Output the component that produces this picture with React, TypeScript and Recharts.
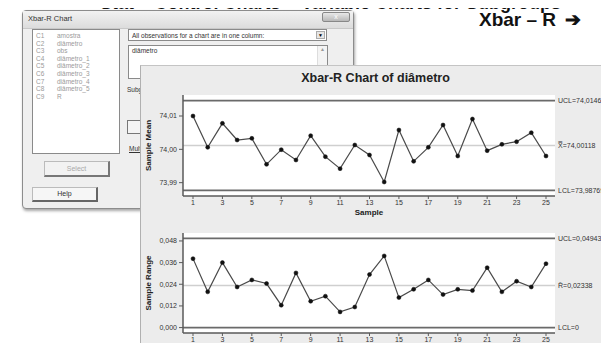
import {
  LineChart,
  Line,
  XAxis,
  YAxis,
  CartesianGrid,
  ReferenceLine,
} from 'recharts';

// subgroup numbers and the two statistics plotted per subgroup
const samples = [1, 2, 3, 4, 5, 6, 7, 8, 9, 10, 11, 12, 13, 14, 15, 16, 17, 18, 19, 20, 21, 22, 23, 24, 25];
const sampleMeans = [
  74.01, 74.0006, 74.0078, 74.0028, 74.0033, 73.9955, 73.9999, 73.9968, 74.0041, 73.9978,
  73.9942, 74.0013, 73.9983, 73.9902, 74.0058, 73.9964, 74.0006, 74.0073, 73.998, 74.0091,
  73.9996, 74.0015, 74.0023, 74.005, 73.998,
];
const sampleRanges = [
  0.0382, 0.0198, 0.036, 0.0225, 0.0264, 0.0244, 0.0124, 0.0303, 0.0146, 0.0174,
  0.0087, 0.0114, 0.0294, 0.0397, 0.0166, 0.0212, 0.0264, 0.0183, 0.0212, 0.0205,
  0.0332, 0.0198, 0.0257, 0.0225, 0.0354,
];

const meanLimits = { ucl: 74.0146, center: 74.00118, lcl: 73.98769 };
const rangeLimits = { ucl: 0.04943, center: 0.02338, lcl: 0 };

const xTicks = [1, 3, 5, 7, 9, 11, 13, 15, 17, 19, 21, 23, 25];
const meanTicks = [73.99, 74.0, 74.01];
const rangeTicks = [0, 0.012, 0.024, 0.036, 0.048];

const listColumns = [
  ['C1', 'amostra'],
  ['C2', 'diâmetro'],
  ['C3', 'obs'],
  ['C4', 'diâmetro_1'],
  ['C5', 'diâmetro_2'],
  ['C6', 'diâmetro_3'],
  ['C7', 'diâmetro_4'],
  ['C8', 'diâmetro_5'],
  ['C9', 'R'],
];

const meanData = samples.map((s, i) => ({ sample: s, value: sampleMeans[i] }));
const rangeData = samples.map((s, i) => ({ sample: s, value: sampleRanges[i] }));

const FONT = '"Liberation Sans", Arial, sans-serif';
const FRAME = '#5a5a5a';
const comma = (digits: number) => (v: number) => v.toFixed(digits).replace('.', ',');

function yTitle(text: string) {
  return (props: any) => {
    const vb = props.viewBox || { x: 0, y: 0, height: 0 };
    const cx = vb.x + 8;
    const cy = vb.y + vb.height / 2;
    return (
      <text
        x={cx}
        y={cy}
        transform={`rotate(-90 ${cx} ${cy})`}
        textAnchor="middle"
        dominantBaseline="central"
        fontFamily={FONT}
        fontWeight="bold"
        fontSize={8}
        fill="#222"
      >
        {text}
      </text>
    );
  };
}

function xTitle(props: any) {
  const vb = props.viewBox || { x: 0, y: 0, width: 0 };
  return (
    <text
      x={vb.x + vb.width / 2}
      y={vb.y + 16}
      textAnchor="middle"
      dominantBaseline="central"
      fontFamily={FONT}
      fontWeight="bold"
      fontSize={8}
      fill="#222"
    >
      Sample
    </text>
  );
}

const limitLabel = (value: string) => ({
  value,
  position: 'right' as const,
  offset: 3,
  fill: '#333',
  fontSize: 7,
  fontFamily: FONT,
});

interface ControlChartProps {
  data: { sample: number; value: number }[];
  height: number;
  marginTop: number;
  xAxisHeight: number;
  domain: [number, number];
  ticks: number[];
  digits: number;
  title: string;
  limits: { ucl: number; center: number; lcl: number };
  labels: [string, string, string];
}

function ControlChart(p: ControlChartProps) {
  const tickStyle = { fontSize: 7, fill: '#333', fontFamily: FONT };
  return (
    <LineChart
      width={469}
      height={p.height}
      data={p.data}
      margin={{ top: p.marginTop, right: 54, bottom: 0, left: 0 }}
    >
      <CartesianGrid horizontal={false} vertical={false} fill="#ffffff" />
      <XAxis
        dataKey="sample"
        type="number"
        domain={[1, 25]}
        ticks={xTicks}
        padding={{ left: 10, right: 9 }}
        height={p.xAxisHeight}
        tick={tickStyle}
        tickSize={3}
        tickMargin={1}
        interval={0}
        axisLine={{ stroke: FRAME, strokeWidth: 1.5 }}
        tickLine={{ stroke: FRAME }}
        label={{ content: xTitle }}
      />
      <XAxis xAxisId="top" orientation="top" height={0} tick={false} tickLine={false} axisLine={{ stroke: FRAME, strokeWidth: 1.5 }} />
      <YAxis
        type="number"
        domain={p.domain}
        ticks={p.ticks}
        width={43}
        allowDataOverflow
        tick={tickStyle}
        tickSize={4}
        tickMargin={2}
        tickFormatter={comma(p.digits)}
        axisLine={{ stroke: FRAME, strokeWidth: 1.5 }}
        tickLine={{ stroke: FRAME }}
        label={{ content: yTitle(p.title) }}
      />
      <YAxis yAxisId="right" orientation="right" width={0} tick={false} tickLine={false} axisLine={{ stroke: FRAME, strokeWidth: 1.5 }} />
      <ReferenceLine y={p.limits.ucl} stroke="#6a6a6a" strokeWidth={1.6} label={limitLabel(p.labels[0])} />
      <ReferenceLine y={p.limits.center} stroke="#cfcfcf" strokeWidth={1.5} label={limitLabel(p.labels[1])} />
      <ReferenceLine y={p.limits.lcl} stroke="#6a6a6a" strokeWidth={1.6} label={limitLabel(p.labels[2])} />
      <Line
        dataKey="value"
        stroke="#4a4a4a"
        strokeWidth={1.2}
        dot={{ r: 2, fill: '#111', stroke: '#111', strokeWidth: 0.5 }}
        isAnimationActive={false}
      />
    </LineChart>
  );
}

const box = (s: React.CSSProperties): React.CSSProperties => ({ position: 'absolute', boxSizing: 'border-box', ...s });

function Dialog() {
  const small = { fontFamily: FONT, fontSize: 7, color: '#333' };
  return (
    <div style={box({ left: 22, top: 10, width: 332, height: 199, background: '#efefef', border: '1px solid #8c8c8c', borderRadius: 4, boxShadow: '1px 2px 3px rgba(0,0,0,0.35)' })}>
      <div style={box({ left: 0, top: 0, width: '100%', height: 18, background: 'linear-gradient(#f2f2f2, #dcdcdc)', borderBottom: '1px solid #c8c8c8' })}>
        <span style={{ ...small, position: 'absolute', left: 5, top: 3, fontSize: 7.5 }}>Xbar-R Chart</span>
        <div style={box({ right: 3, top: 1, width: 28, height: 10, background: 'linear-gradient(#e8e8e8, #b8b8b8)', border: '1px solid #888', borderRadius: 2, fontSize: 7, color: '#fff', textAlign: 'center', lineHeight: '8px', fontFamily: FONT })}>x</div>
      </div>
      {/* column list */}
      <div style={box({ left: 9, top: 18, width: 88, height: 125, background: '#fff', border: '1px solid #8a8a8a' })}>
        {listColumns.map(([c, name], i) => (
          <div key={c} style={{ position: 'absolute', left: 3, top: 2 + i * 7.6, fontFamily: FONT, fontSize: 6.5, color: '#9a9a9a', whiteSpace: 'nowrap' }}>
            <span style={{ display: 'inline-block', width: 21 }}>{c}</span>
            {name}
          </div>
        ))}
      </div>
      {/* dropdown */}
      <div style={box({ left: 105, top: 18, width: 199, height: 12, background: '#fff', border: '1px solid #8a8a8a' })}>
        <span style={{ ...small, position: 'absolute', left: 3, top: 1.5, fontSize: 6.5, whiteSpace: 'nowrap' }}>All observations for a chart are in one column:</span>
        <div style={box({ right: 1, top: 1, width: 9, height: 8, background: '#e6e6e6', border: '1px solid #aaa', fontSize: 5, textAlign: 'center', lineHeight: '7px' })}>▼</div>
      </div>
      {/* variable box */}
      <div style={box({ left: 105, top: 34, width: 200, height: 34, background: '#fff', border: '1px solid #8a8a8a' })}>
        <span style={{ ...small, position: 'absolute', left: 3, top: 1, fontSize: 6.5 }}>diâmetro</span>
        <div style={box({ right: 0, top: 0, width: 10, height: '100%', background: '#f4f4f4', borderLeft: '1px solid #ddd', fontSize: 5, color: '#999', textAlign: 'center' })}>▲</div>
      </div>
      <span style={{ ...small, position: 'absolute', left: 104, top: 75, fontSize: 6.5, whiteSpace: 'nowrap' }}>Subgroup sizes:</span>
      <div style={box({ left: 104, top: 109, width: 30, height: 14, background: '#f4f4f4', border: '1px solid #777' })} />
      <span style={{ ...small, position: 'absolute', left: 106, top: 134, fontSize: 6.5, textDecoration: 'underline' }}>Multiple Graphs...</span>
      <div style={box({ left: 21, top: 150, width: 66, height: 16, background: '#f2f2f2', borderTop: '1px solid #bbb', borderLeft: '1px solid #bbb', borderRight: '2px solid #777', borderBottom: '2px solid #777', textAlign: 'center', lineHeight: '13px', fontFamily: FONT, fontSize: 7, color: '#aaa' })}>Select</div>
      <div style={box({ left: 9, top: 176, width: 66, height: 15, background: '#f6f6f6', borderTop: '1px solid #bbb', borderLeft: '1px solid #bbb', borderRight: '2px solid #666', borderBottom: '2px solid #666', textAlign: 'center', lineHeight: '12px', fontFamily: FONT, fontSize: 7, color: '#333' })}>Help</div>
    </div>
  );
}

export default function App() {
  return (
    <div style={{ position: 'relative', width: 609, height: 351, margin: -8, overflow: 'hidden', background: '#fff', fontFamily: FONT }}>
      <div style={box({ left: 3, top: 0, width: 3, height: 351, background: '#111' })} />
      <div style={{ position: 'absolute', left: 100, top: -6, lineHeight: '19px', whiteSpace: 'nowrap', fontFamily: FONT, fontWeight: 'bold', fontSize: 18, color: '#111' }}>
        Stat &gt; Control Charts &gt; Variable Charts for Subgroups &gt;
      </div>
      <div style={{ position: 'absolute', left: 479, top: 8, whiteSpace: 'nowrap', fontFamily: FONT, fontWeight: 'bold', fontSize: 19, color: '#111' }}>
        Xbar – R <span style={{ marginLeft: 4 }}>➔</span>
      </div>
      <Dialog />
      {/* Minitab graph window */}
      <div style={box({ left: 140, top: 65, width: 469, height: 286, background: '#ececec', borderLeft: '1px solid #b0b0b0', borderTop: '1px solid #c4c4c4' })}>
        <div style={{ position: 'absolute', left: 0, width: 469, top: 5, textAlign: 'center', fontFamily: FONT, fontWeight: 'bold', fontSize: 12.5, color: '#222' }}>
          Xbar-R Chart of diâmetro
        </div>
        <div style={{ position: 'absolute', left: -1, top: -1 }}>
          <ControlChart
            data={meanData}
            height={153}
            marginTop={30}
            xAxisHeight={22}
            domain={[73.986, 74.0163]}
            ticks={meanTicks}
            digits={2}
            title="Sample Mean"
            limits={meanLimits}
            labels={['UCL=74,0146', 'X\u033F=74,00118', 'LCL=73,98769']}
          />
        </div>
        <div style={{ position: 'absolute', left: -1, top: 152 }}>
          <ControlChart
            data={rangeData}
            height={134}
            marginTop={15}
            xAxisHeight={19}
            domain={[-0.003, 0.0524]}
            ticks={rangeTicks}
            digits={3}
            title="Sample Range"
            limits={rangeLimits}
            labels={['UCL=0,04943', 'R\u0304=0,02338', 'LCL=0']}
          />
        </div>
      </div>
    </div>
  );
}
